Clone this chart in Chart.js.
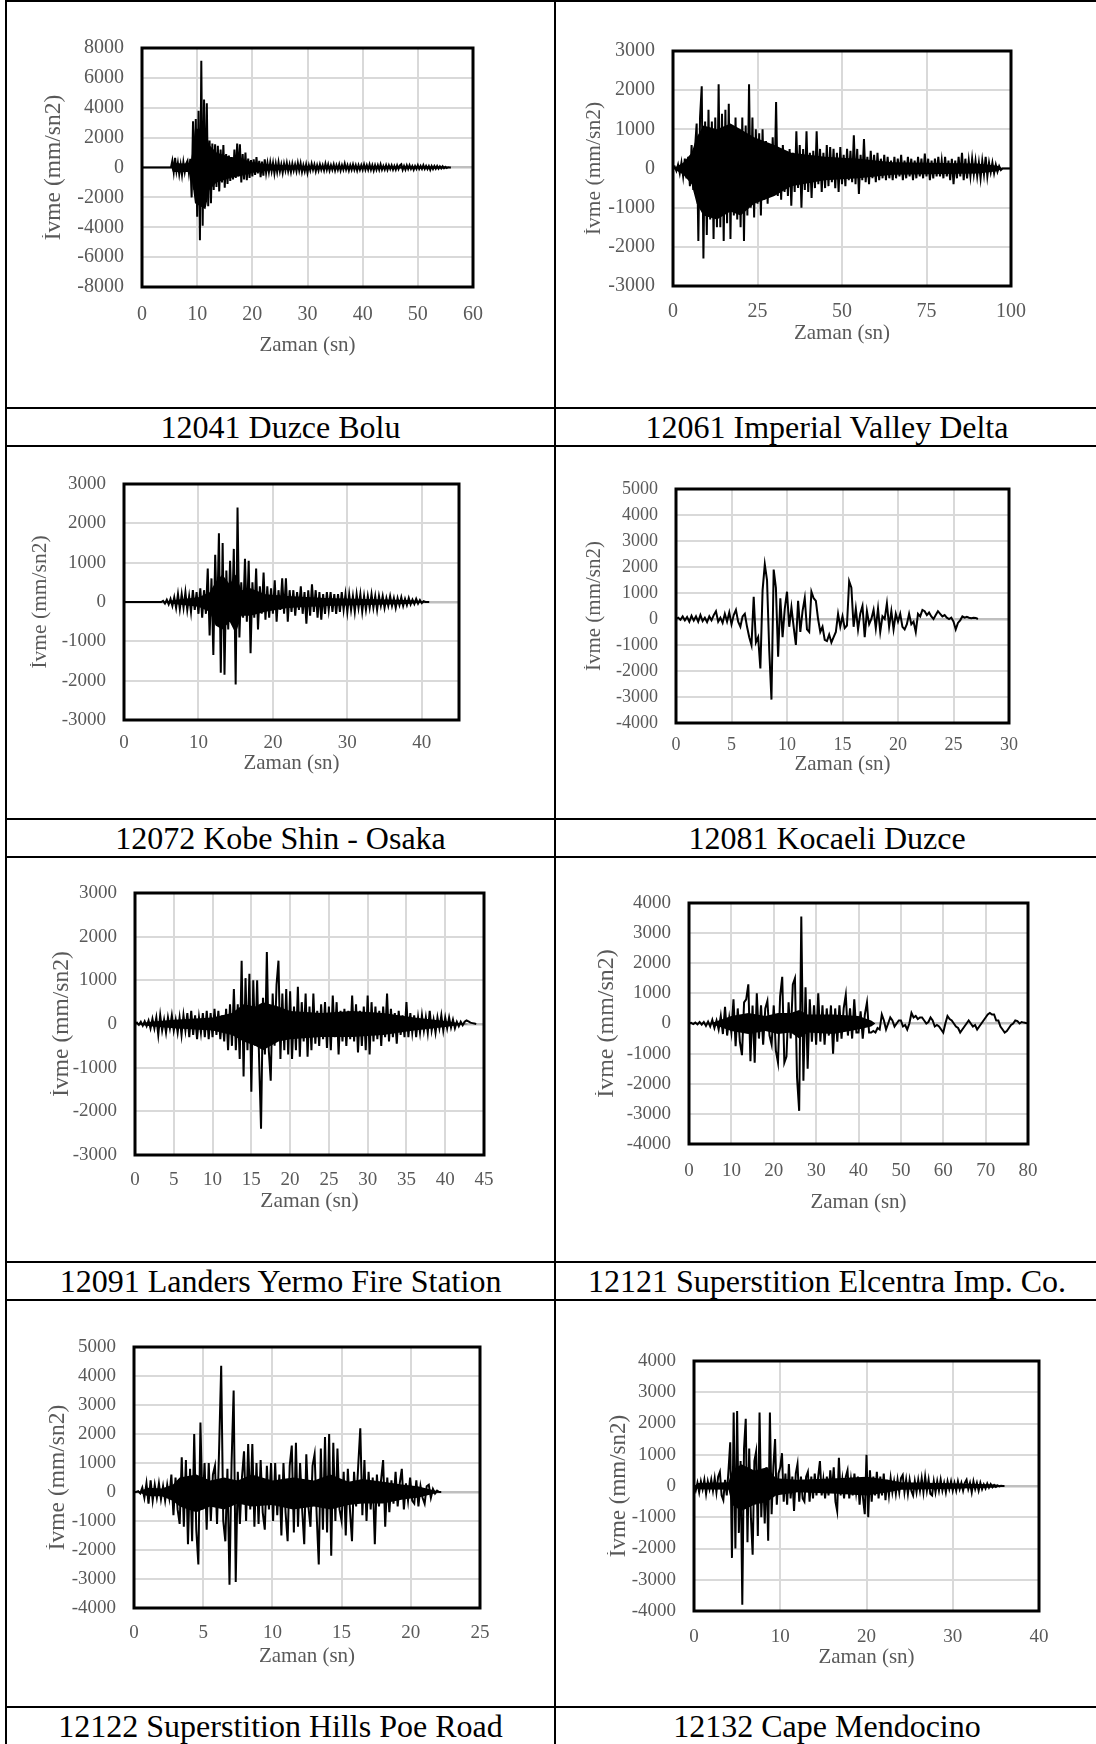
<!DOCTYPE html>
<html>
<head>
<meta charset="utf-8">
<title>Ivme kayitlari</title>
<script src="https://cdn.jsdelivr.net/npm/chart.js@4.4.1/dist/chart.umd.min.js"></script>
<style>
    html, body { margin: 0; padding: 0; background: #fff; }
    #page { position: relative; width: 1096px; height: 1744px; overflow: hidden; background: #fff; }
    .hl { position: absolute; left: 5px; width: 1091px; height: 2px; background: #000; }
    .vl { position: absolute; top: 0; width: 2px; height: 1744px; background: #000; }
    .cap { position: absolute; height: 36px; line-height: 36px; text-align: center; white-space: nowrap;
           font-family: "Liberation Serif", "Times New Roman", serif; font-size: 32px; color: #000; }
    canvas { position: absolute; }
</style>
</head>
<body>
<div id="page"></div>
<script>
// Record captions, in table order (left, right, left, right ...)
var captions = [
    '12041 Duzce Bolu', '12061 Imperial Valley Delta',
    '12072 Kobe Shin - Osaka', '12081 Kocaeli Duzce',
    '12091 Landers Yermo Fire Station', '12121 Superstition Elcentra Imp. Co.',
    '12122 Superstition Hills Poe Road', '12132 Cape Mendocino'
];

// Axis ranges [xMax, xStep, yMin, yMax, yStep] per record
var duzceAxis = [60, 10, -8000, 8000, 2000];
var imperialAxis = [100, 25, -3000, 3000, 1000];
var kobeAxis = [45, 10, -3000, 3000, 1000];
var kocaeliAxis = [30, 5, -4000, 5000, 1000];
var landersAxis = [45, 5, -3000, 3000, 1000];
var elcentraAxis = [80, 10, -4000, 4000, 1000];
var poeAxis = [25, 5, -4000, 5000, 1000];
var mendocinoAxis = [40, 10, -4000, 4000, 1000];

// Accelerations (mm/sn2); start time and sample step in seconds
var duzceStart = 5.25, duzceDt = 0.25;
var duzceA = [
    0, 450, -300, 650, -250, 300, -450, 200, -500, 350,
    -300, 250, 450, -350, 580, -2000, 3100, -1500, 3250, -3300,
    3800, -4870, 7150, -3900, 4550, -2200, 4300, -2600, 1800, -2400,
    1600, -1500, 1550, -1300, 1450, -1600, 1200, -1000, 1500, -1350,
    900, -1100, 800, -900, 700, -800, 1200, -700, 1600, -600,
    1550, -1000, 900, -800, 1000, -850, 600, -700, 500, -600,
    550, -500, 700, -400, 450, -650, 400, -550, 550, -350,
    300, -300, 350, -250, 300, -400, 250, -300, 350, -250,
    200, -350, 250, -200, 300, -250, 200, -300, 250, -200,
    200, -250, 300, -200, 280, -300, 150, -250, 200, -350,
    150, -200, 250, -150, 200, -250, 150, -200, 200, -150,
    150, -200, 250, -150, 200, -200, 150, -150, 200, -200,
    150, -150, 200, -200, 150, -150, 250, -150, 150, -200,
    150, -150, 200, -150, 150, -200, 150, -150, 150, -150,
    200, -150, 150, -150, 200, -150, 150, -200, 150, -150,
    150, -150, 200, -150, 100, -150, 150, -150, 150, -100,
    150, -150, 100, -150, 150, -100, 150, 220, -150, 100,
    -150, 150, -100, 150, -100, 100, -150, 100, -100, 150,
    -100, 100, -100, 150, -100, 100, -100, 100, -150, 100,
    -100, 100, -80, 100, -80, 80, -60, 80, -50, 40,
    -30, 20, 0, 0
];

var imperialStart = 0, imperialDt = 0.5;
var imperialA = [
    0, 50, -60, 100, -120, 150, -200, 250, -250, 300,
    -450, 600, -550, 500, 1150, -1850, 1300, 2100, -2300, 1200,
    -1700, 1500, -1300, 1200, -1800, 1300, -1500, 2150, -1500, 1400,
    -1850, 1500, -1400, 1650, -1800, 1100, -1200, 1300, -1300, 1000,
    -1500, 1300, -1850, 1100, -1200, 2150, -1000, 1300, -1250, 1000,
    -900, 900, -1200, 1000, -800, 700, -900, 600, -700, 800,
    -600, 1700, -700, 500, -800, 600, -600, 400, -700, 500,
    -950, 400, -600, 950, -500, 600, -1000, 500, -550, 950,
    -600, 400, -750, 450, -500, 950, -400, 500, -600, 400,
    -500, 600, -450, 550, -350, 500, -500, 400, -600, 550,
    -400, 350, -450, 500, -300, 450, -350, 850, -400, 500,
    -650, 350, -300, 750, -350, 300, -400, 450, -250, 350,
    -350, 400, -300, 250, -250, 350, -300, 300, -250, 200,
    -300, 300, -250, 250, -200, 350, -300, 200, -250, 300,
    -200, 250, -300, 200, -250, 300, -200, 250, -250, 380,
    -200, 250, -300, 200, -250, 250, -200, 300, -200, 200,
    -250, 300, -200, 200, -300, 250, -400, 200, -250, 300,
    -200, 400, -300, 250, -250, 200, -200, 250, -150, 200,
    -200, 150, -250, 200, -150, 300, -200, 150, -100, 150,
    -120, 100, -80, 60, -40, 0, 0, 0, 0, 0,
    0
];

var kobeStart = 5, kobeDt = 0.25;
var kobeA = [
    0, 30, -40, 60, -60, 80, -100, 120, -150, 200,
    -180, 200, -150, 250, -200, 150, -250, 300, -200, 250,
    -300, 350, -400, 300, -300, 850, -850, 600, -1350, 1200,
    -600, 1750, -1800, 1500, -1850, 800, -700, 1050, -500, 1350,
    -2100, 2400, -900, 500, -400, 1100, -500, 1050, -1300, 500,
    -400, 850, -700, 400, -300, 750, -450, 400, -400, 350,
    -300, 550, -500, 300, -200, 600, -300, 600, -500, 300,
    -250, 300, -350, 250, -200, 400, -300, 250, -550, 300,
    -350, 450, -250, 300, -400, 250, -450, 200, -300, 250,
    -200, 250, -250, 200, -300, 200, -250, 250, -200, 200,
    -250, 200, -200, 150, -250, 200, -150, 200, -250, 150,
    -200, 150, -150, 200, -150, 150, -200, 150, -100, 150,
    -150, 100, -100, 150, -100, 100, -150, 100, -80, 120,
    -100, 80, -80, 100, -60, 60, -50, 80, -40, 50,
    -30, 20, 0, 0, 0
];

var kocaeliStart = 0, kocaeliDt = 0.2;
var kocaeliA = [
    0, 50, -30, 100, -50, 80, -100, 120, -60, 100,
    -100, 150, -80, 50, -120, 100, -50, 150, 300, -100,
    50, -150, 200, -100, 250, -200, 150, 350, -100, -300,
    100, 200, -300, -700, -1000, 850, -900, -700, -1900, 1100,
    2100, 1500, -1200, -3100, 1900, 1200, -1450, 800, -700, 400,
    1050, -300, 450, -300, -1000, 700, -500, 300, 800, -400,
    -500, 1050, 800, 700, 0, -500, -300, -800, -850, -600,
    -900, -700, -500, 200, -300, 100, -350, -250, 1450, 1200,
    -300, 400, -400, 200, 500, -700, 300, -200, 0, 350,
    -350, 400, -500, 100, 0, 600, -300, 300, -400, 200,
    -100, 200, -300, -400, -200, 200, -200, -100, -500, 200,
    100, 350, 300, 150, 250, 100, 0, 150, 300, 200,
    100, 150, 50, 0, 50, -100, -400, -150, -50, 100,
    50, 80, 50, 30, 50, 40, 0
];

var landersStart = 0, landersDt = 0.25;
var landersA = [
    0, 30, -20, 50, -40, 60, -50, 80, -100, 120,
    -100, 150, -250, 200, -150, 100, -200, 150, -100, 200,
    -150, 100, -200, 150, -250, 200, -150, 250, -300, 300,
    -250, 200, -350, 150, -200, 250, -300, 300, -350, 250,
    -300, 350, -250, 300, -350, 200, -400, 350, -600, 450,
    -500, 800, -600, 450, -800, 1450, -1200, 1050, -600, 1150,
    -1550, 1000, -500, 1000, -800, -2400, 600, -700, 1650, -600,
    -1300, 700, -500, 900, 1450, -800, 700, -600, 800, -700,
    750, -800, 400, -600, 850, -750, 500, -400, 700, -750,
    400, -600, 700, -450, 300, -500, 450, -350, 500, -550,
    400, -600, 650, -300, 500, -700, 300, -400, 350, -500,
    300, -350, 650, -400, 450, -650, 300, -500, 400, -600,
    650, -700, 500, -400, 400, -350, 300, -500, 400, -300,
    700, -400, 350, -300, 250, -450, 300, -250, 200, -300,
    500, -300, 250, -200, 200, -300, 150, -200, 200, -150,
    150, -200, 300, -150, 100, -200, 150, -100, 200, -150,
    150, -100, 150, -80, 100, -100, 50, -50, 50, -30,
    50, 80, 60, 30, 20, 10, 0
];

var elcentraStart = 0, elcentraDt = 0.5;
var elcentraA = [
    0, 20, -20, 30, -30, 50, -40, 50, -80, 60,
    -100, 120, -150, 100, -200, 250, -350, 550, -400, 200,
    -300, 800, -750, 500, -600, -1050, 700, 800, 1300, -1250,
    600, -1300, 1000, -500, 600, -700, 500, 750, -400, -700,
    600, -900, -1300, 900, 1550, -1300, -1100, 700, -500, 1300,
    1500, -1800, -2900, 3550, -1900, 1200, -1500, 800, -600, 600,
    -700, 1000, -600, 600, -700, 500, -400, 600, -1000, 500,
    -600, 600, -500, 500, 950, -400, 500, -500, 800, -300,
    -300, 400, -500, 300, 700, -300, -300, -250, -300, -150,
    -200, 300, 100, -200, 0, 200, 100, -100, 0, 100,
    100, -100, -50, -200, 0, 350, 200, 250, 150, 200,
    200, 100, 0, 50, 200, 100, -100, -50, -100, -200,
    -300, 0, 250, 150, 100, 0, -100, -150, -300, -200,
    -100, 0, 100, 0, -100, -50, -200, -100, 0, 100,
    200, 300, 350, 300, 300, 100, 100, -100, -200, -300,
    -250, -150, -50, 0, 100, 80, 0, 50, 30, 20,
    0
];

var poeStart = 0, poeDt = 0.15;
var poeA = [
    0, 0, 30, -50, 150, -200, 300, -400, 400, -300,
    250, -200, 300, -250, 200, -300, 250, -200, 600, -800,
    500, -600, -1100, 1200, -1200, 1100, -1800, 800, -1700, 2000,
    -1300, -2500, 2400, -600, 1000, -1300, 1000, -1000, 600, 900,
    -1100, 1500, 4350, -1000, -1700, 800, -3200, 1000, 3500, -3100,
    700, -1100, 500, 1400, -1000, 1650, -600, 1650, -1200, 1000,
    -1100, 1100, -700, -1300, 900, -600, 1000, -1000, 1000, -800,
    600, -1500, 1000, -700, -1700, 900, 1600, -1400, 1700, -1200,
    1000, -600, -1800, 1300, -500, -1200, 900, 1300, -800, -2500,
    1500, -1300, 1900, -1400, 2000, -2200, 1700, -1000, 1500, -600,
    -1000, 700, -1500, 800, -600, -1700, 700, -500, 900, 2200,
    -800, 1100, -1000, 700, -600, 500, -1800, 600, -500, 400,
    1100, -1200, 500, -700, 400, -400, 700, -500, 300, 800,
    -600, 300, -300, 500, -300, -400, 400, -500, 200, -200,
    -400, 200, 250, -200, 100, -50, 50, 0, 0
];

var mendocinoStart = 0, mendocinoDt = 0.2;
var mendocinoA = [
    0, -150, 100, -200, 150, -100, 200, -250, 150, -100,
    200, -150, 250, -200, 300, 450, -300, -450, 200, -300,
    500, 1400, -2300, 2350, -2000, 2400, -1500, 800, -3800, 1200,
    2150, -1800, 1200, -1000, -2200, 800, 1100, -1600, 2350, -1000,
    500, -1200, 600, -1750, 2350, -900, 600, 1500, -600, 400,
    600, 1050, -500, 400, -600, 700, -400, 300, -800, 400,
    700, -500, 300, -400, -500, 300, 450, -500, 300, -400,
    400, -300, 300, 800, -300, 200, -400, 300, -300, 500,
    -200, 600, -500, -800, 900, -300, 200, -400, 300, 500,
    -400, 200, -300, 400, -200, 300, -600, 200, -400, -900,
    1000, -1000, 500, -500, 300, -300, 450, -400, 300, -300,
    400, -450, 200, -300, 250, -200, 150, -250, 200, -200,
    250, 350, -200, 200, -250, 200, -150, -300, 150, -200,
    200, -150, 250, -200, 300, -150, 200, -250, -300, 150,
    -200, 150, -150, 200, -150, 100, -200, 150, -100, 150,
    -150, 100, -150, 150, -100, 100, -150, 100, 200, -100,
    100, -200, 150, -100, 100, -150, 100, -100, 50, -80,
    80, -50, 60, -40, 30, -30, 20, -10, 10, 0,
    0
];

// Solid black core of each trace (where the plot is filled): time, upper, lower
var duzceCoreT = [5.3, 5.6, 8.8, 9.3, 9.6, 11.5, 12.2, 13.5, 16, 18, 20, 23, 28, 35, 55, 56];
var duzceCoreHi = [0, 300, 250, 1500, 2600, 2600, 1500, 1000, 700, 600, 350, 200, 120, 90, 70, 0];
var duzceCoreLo = [0, -300, -300, -1500, -2400, -2800, -1500, -1000, -700, -550, -350, -200, -120, -90, -70, 0];

var imperialCoreT = [0, 3, 5.5, 7, 9, 13, 17, 20, 24, 30, 35, 45, 55, 65, 90, 96, 97.5];
var imperialCoreHi = [0, 150, 400, 800, 1100, 1000, 1150, 1000, 800, 600, 400, 300, 250, 160, 130, 70, 0];
var imperialCoreLo = [0, -150, -400, -900, -1200, -1300, -1100, -1200, -900, -700, -450, -300, -250, -160, -130, -70, 0];

var kobeCoreT = [5, 7, 10, 11.5, 12.3, 13.2, 14.2, 15, 15.8, 17, 19, 22, 27, 38, 41];
var kobeCoreHi = [0, 60, 120, 250, 500, 700, 450, 700, 300, 350, 200, 150, 100, 50, 0];
var kobeCoreLo = [0, -60, -120, -250, -600, -700, -500, -800, -350, -350, -250, -150, -100, -50, 0];

var kocaeliCoreT = [];
var kocaeliCoreHi = [];
var kocaeliCoreLo = [];

var landersCoreT = [0, 2, 5, 10, 12.5, 14, 15.5, 16.5, 18.5, 20, 24, 28, 32, 36, 40, 42, 43];
var landersCoreHi = [0, 50, 100, 150, 250, 450, 400, 500, 400, 300, 250, 300, 250, 150, 70, 20, 0];
var landersCoreLo = [0, -50, -100, -150, -250, -400, -500, -600, -400, -350, -300, -300, -250, -150, -70, -20, 0];

var elcentraCoreT = [5, 7, 10, 14, 18, 21, 24, 26, 28, 34, 40, 43, 44];
var elcentraCoreHi = [0, 100, 250, 350, 250, 350, 350, 450, 300, 300, 250, 100, 0];
var elcentraCoreLo = [0, -100, -250, -350, -250, -350, -300, -500, -300, -350, -200, -100, 0];

var poeCoreT = [0.3, 1, 2, 2.8, 3.3, 4.5, 5.5, 6.5, 7.5, 8.5, 10, 11.5, 13, 14.2, 15.5, 16.5, 18, 19.5, 20.5, 21.5, 22.2];
var poeCoreHi = [0, 150, 120, 250, 500, 600, 400, 500, 400, 600, 400, 500, 400, 600, 350, 450, 350, 250, 200, 80, 0];
var poeCoreLo = [0, -150, -150, -300, -500, -700, -500, -600, -400, -500, -450, -600, -500, -600, -450, -400, -400, -250, -200, -80, 0];

var mendocinoCoreT = [0, 0.5, 4, 4.4, 5.5, 7, 8.5, 9.5, 12, 16.5, 20, 22.5, 24, 30, 35, 36];
var mendocinoCoreHi = [0, 100, 120, 500, 700, 500, 600, 250, 200, 250, 300, 200, 120, 90, 50, 0];
var mendocinoCoreLo = [0, -100, -120, -600, -800, -600, -500, -300, -200, -250, -300, -200, -120, -90, -50, 0];

var axisGray = '#595959';
var gridGray = '#d9d9d9';
var zeroGray = '#bfbfbf';
var serif = '"Liberation Serif", "Times New Roman", serif';
var padTop = 34;
var padRight = 40;
var page = document.getElementById('page');

/**
 * Turn a sampled record into {x, y} points (record is at rest before its start)
 * @param {number} start first sample time
 * @param {number} dt sample step
 * @param {Array} vals accelerations
 * @return {Array}
 */
function toPoints(start, dt, vals) {
    var pts = start > 0 ? [{x: 0, y: 0}] : [];
    vals.forEach(function(v, i) {
        pts.push({x: Math.round((start + i * dt) * 1000) / 1000, y: v});
    });
    return pts;
}

/**
 * Pair times with values
 * @param {Array} t times
 * @param {Array} v values
 * @return {Array}
 */
function pair(t, v) {
    return t.map(function(x, i) {
        return {x: x, y: v[i]};
    });
}

// Thick black frame round the plot area, drawn over the trace
var plotFrame = {
    id: 'plotFrame',
    afterDatasetsDraw: function(chart) {
        var a = chart.chartArea;
        var ctx = chart.ctx;
        ctx.save();
        ctx.strokeStyle = '#000';
        ctx.lineWidth = 3;
        ctx.strokeRect(a.left, a.top, a.right - a.left, a.bottom - a.top);
        ctx.restore();
    }
};

/**
 * Build one accelerogram chart
 * @param {object} c layout + data of the panel
 */
function drawRecord(c) {
    var left = Math.round(c.yTitleX - c.yTitleSize / 2);
    var top = c.plot[1] - padTop;
    var right = c.plot[2] + padRight;
    var bottom = Math.round(c.xTitleY + c.titleSize / 2);
    var canvas = document.createElement('canvas');
    canvas.width = right - left;
    canvas.height = bottom - top;
    canvas.style.left = left + 'px';
    canvas.style.top = top + 'px';
    canvas.style.width = (right - left) + 'px';
    canvas.style.height = (bottom - top) + 'px';
    page.appendChild(canvas);

    var tickFont = {family: serif, size: c.tickSize, lineHeight: 1.2};
    var none = 'rgba(0,0,0,0)';

    new Chart(canvas, {
        type: 'line',
        data: {
            datasets: [{
                // upper edge of the solid core, filled down to the lower edge
                data: c.coreHi,
                borderColor: none,
                borderWidth: 0,
                pointRadius: 0,
                fill: '+1',
                backgroundColor: '#000'
            }, {
                data: c.coreLo,
                borderColor: none,
                borderWidth: 0,
                pointRadius: 0,
                fill: false
            }, {
                data: c.points,
                borderColor: '#000',
                borderWidth: 2,
                pointRadius: 0,
                tension: 0,
                fill: false
            }]
        },
        options: {
            responsive: false,
            animation: false,
            devicePixelRatio: 1,
            layout: {padding: {left: 0, top: padTop, right: padRight, bottom: 0}},
            plugins: {legend: {display: false}, tooltip: {enabled: false}},
            scales: {
                x: {
                    type: 'linear',
                    min: 0,
                    max: c.axis[0],
                    border: {display: false},
                    grid: {color: gridGray, lineWidth: 2, drawTicks: false},
                    ticks: {
                        stepSize: c.axis[1],
                        includeBounds: false,
                        autoSkip: false,
                        maxRotation: 0,
                        padding: c.xTickY - c.plot[3] - 0.6 * c.tickSize,
                        color: axisGray,
                        font: tickFont
                    },
                    title: {
                        display: true, text: 'Zaman (sn)', color: axisGray, padding: 0,
                        font: {family: serif, size: c.titleSize, lineHeight: 1}
                    },
                    afterFit: function(s) {
                        s.height = bottom - c.plot[3];
                    }
                },
                y: {
                    min: c.axis[2],
                    max: c.axis[3],
                    border: {display: false},
                    grid: {
                        drawTicks: false,
                        color: function(ctx) {
                            return ctx.tick && ctx.tick.value === 0 ? zeroGray : gridGray;
                        },
                        lineWidth: function(ctx) {
                            return ctx.tick && ctx.tick.value === 0 ? 2.5 : 2;
                        }
                    },
                    ticks: {
                        stepSize: c.axis[4],
                        autoSkip: false,
                        padding: 18,
                        color: axisGray,
                        font: tickFont,
                        callback: function(v) {
                            return String(v);
                        }
                    },
                    title: {
                        display: true, text: 'İvme (mm/sn2)', color: axisGray, padding: 0,
                        font: {family: serif, size: c.yTitleSize, lineHeight: 1}
                    },
                    afterFit: function(s) {
                        s.width = c.plot[0] - left;
                    }
                }
            }
        },
        plugins: [plotFrame]
    });
}

// Table rules
[0, 407, 445, 818, 856, 1261, 1299, 1706].forEach(function(y) {
    var d = document.createElement('div');
    d.className = 'hl';
    d.style.top = y + 'px';
    page.appendChild(d);
});
[5, 554].forEach(function(x) {
    var d = document.createElement('div');
    d.className = 'vl';
    d.style.left = x + 'px';
    page.appendChild(d);
});

// Captions
var captionTops = [409, 820, 1263, 1708];
captions.forEach(function(text, i) {
    var d = document.createElement('div');
    d.className = 'cap';
    d.textContent = text;
    d.style.top = captionTops[Math.floor(i / 2)] + 'px';
    if (i % 2 === 0) {
        d.style.left = '7px';
        d.style.width = '547px';
    } else {
        d.style.left = '556px';
        d.style.width = '542px';
    }
    page.appendChild(d);
});

var panels = [
    {plot: [142, 48, 473, 287], yTitleX: 54, xTickY: 315, xTitleY: 345, tickSize: 20, titleSize: 21, yTitleSize: 23.5,
        axis: duzceAxis, points: toPoints(duzceStart, duzceDt, duzceA),
        coreHi: pair(duzceCoreT, duzceCoreHi), coreLo: pair(duzceCoreT, duzceCoreLo)},
    {plot: [673, 51, 1011, 286], yTitleX: 595, xTickY: 312, xTitleY: 333, tickSize: 20, titleSize: 21, yTitleSize: 21.5,
        axis: imperialAxis, points: toPoints(imperialStart, imperialDt, imperialA),
        coreHi: pair(imperialCoreT, imperialCoreHi), coreLo: pair(imperialCoreT, imperialCoreLo)},
    {plot: [124, 484, 459, 720], yTitleX: 41, xTickY: 743, xTitleY: 763, tickSize: 19, titleSize: 21, yTitleSize: 21.5,
        axis: kobeAxis, points: toPoints(kobeStart, kobeDt, kobeA),
        coreHi: pair(kobeCoreT, kobeCoreHi), coreLo: pair(kobeCoreT, kobeCoreLo)},
    {plot: [676, 489, 1009, 723], yTitleX: 594, xTickY: 745, xTitleY: 764, tickSize: 18, titleSize: 21, yTitleSize: 21,
        axis: kocaeliAxis, points: toPoints(kocaeliStart, kocaeliDt, kocaeliA),
        coreHi: pair(kocaeliCoreT, kocaeliCoreHi), coreLo: pair(kocaeliCoreT, kocaeliCoreLo)},
    {plot: [135, 893, 484, 1155], yTitleX: 62, xTickY: 1180, xTitleY: 1201, tickSize: 19, titleSize: 21.5, yTitleSize: 23.5,
        axis: landersAxis, points: toPoints(landersStart, landersDt, landersA),
        coreHi: pair(landersCoreT, landersCoreHi), coreLo: pair(landersCoreT, landersCoreLo)},
    {plot: [689, 903, 1028, 1144], yTitleX: 607, xTickY: 1171, xTitleY: 1202, tickSize: 19, titleSize: 21, yTitleSize: 24,
        axis: elcentraAxis, points: toPoints(elcentraStart, elcentraDt, elcentraA),
        coreHi: pair(elcentraCoreT, elcentraCoreHi), coreLo: pair(elcentraCoreT, elcentraCoreLo)},
    {plot: [134, 1347, 480, 1608], yTitleX: 58, xTickY: 1633, xTitleY: 1656, tickSize: 19, titleSize: 21, yTitleSize: 23.5,
        axis: poeAxis, points: toPoints(poeStart, poeDt, poeA),
        coreHi: pair(poeCoreT, poeCoreHi), coreLo: pair(poeCoreT, poeCoreLo)},
    {plot: [694, 1361, 1039, 1611], yTitleX: 618, xTickY: 1637, xTitleY: 1657, tickSize: 19, titleSize: 21, yTitleSize: 23,
        axis: mendocinoAxis, points: toPoints(mendocinoStart, mendocinoDt, mendocinoA),
        coreHi: pair(mendocinoCoreT, mendocinoCoreHi), coreLo: pair(mendocinoCoreT, mendocinoCoreLo)}
];

panels.forEach(drawRecord);
</script>
</body>
</html>
